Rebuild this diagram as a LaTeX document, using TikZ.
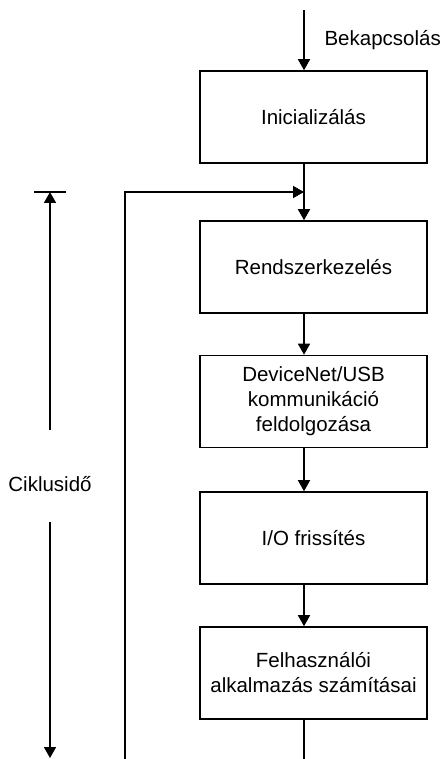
\documentclass[tikz,border=0pt]{standalone}
\usepackage{fontspec}
\setmainfont{Liberation Sans}
\usetikzlibrary{arrows.meta}

\tikzset{
  lepes/.style={draw, line width=1.6pt, minimum width=227pt, minimum height=92pt,
    inner sep=2pt, align=center, font=\fontsize{20.5}{25}\selectfont},
  felirat/.style={font=\fontsize{20.5}{25}\selectfont},
  vonal/.style={line width=1.6pt},
  nyil/.style={line width=1.6pt, -{Triangle[length=11pt,width=12pt]}},
}

\begin{document}
\begin{tikzpicture}[x=1pt,y=1pt]
	\useasboundingbox (0,0) rectangle (445,-759);
	% a lepesek dobozai
	\node[lepes] (init) at (313.5,-117) {Inicializálás};
	\node[lepes] (rendszer) at (313.5,-267) {Rendszerkezelés};
	\node[lepes] (komm) at (313.5,-401.5) {DeviceNet/USB\\kommunikáció\\feldolgozása};
	\node[lepes] (io) at (313.5,-538) {I/O frissítés};
	\node[lepes] (alkalm) at (313.5,-673) {Felhasználói\\alkalmazás számításai};
	% fo vonal
	\coordinate (start) at (304,-10);
	\coordinate (veg) at (304,-759);
	\coordinate (csatl) at (304,-192);
	\coordinate (vissza) at (125,-759);
	\node[felirat, anchor=west] (bekapcs) at (321,-40) {Bekapcsolás};
	\draw[nyil] (start) -- (start |- init.north);
	\draw[nyil] (init.south -| start) -- (rendszer.north -| start);
	\draw[nyil] (rendszer.south -| start) -- (komm.north -| start);
	\draw[nyil] (komm.south -| start) -- (io.north -| start);
	\draw[nyil] (io.south -| start) -- (alkalm.north -| start);
	\draw[vonal] (alkalm.south -| start) -- (veg);
	\draw[nyil] (vissza) |- (csatl);
	% ciklusido
	\node[felirat] (ciklus) at (50,-484) {Ciklusidő};
	\coordinate (cfent) at (50,-192);
	\coordinate (clent) at (50,-758);
	\draw[vonal] ([xshift=-16pt]cfent) -- ([xshift=16pt]cfent);
	\draw[nyil] (50,-430) -- (cfent);
	\draw[nyil] (50,-522) -- (clent);
\end{tikzpicture}
\end{document}
